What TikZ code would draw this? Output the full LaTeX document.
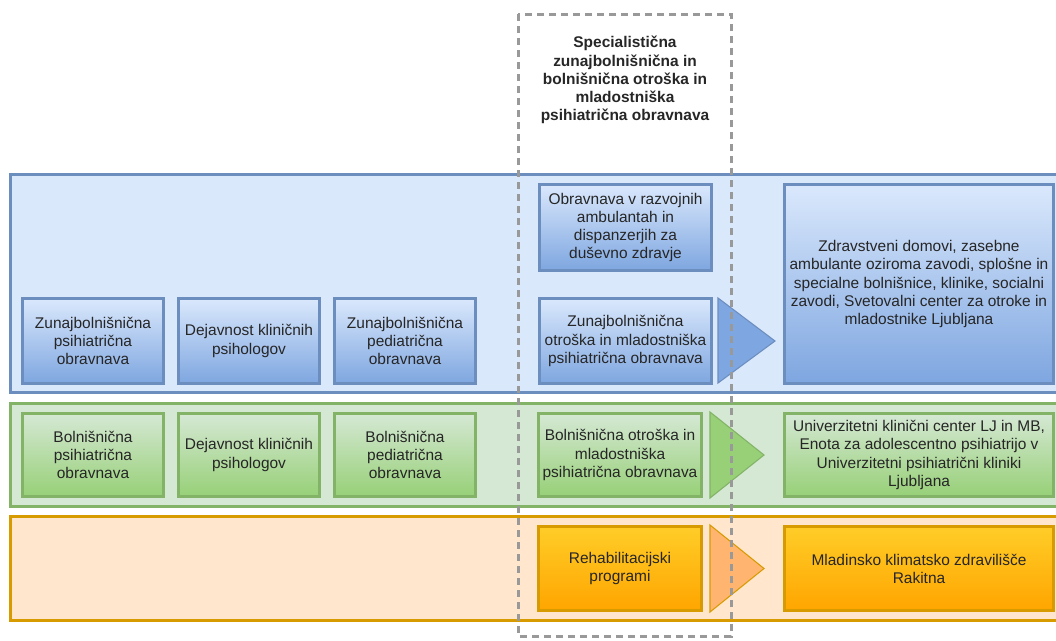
\documentclass[tikz,border=0pt]{standalone}
\usepackage{fontspec}
\setmainfont{Liberation Sans}
\usetikzlibrary{calc}
\definecolor{blueline}{HTML}{6C8EBF}
\definecolor{bluefill}{HTML}{DAE8FC}
\definecolor{bluetop}{HTML}{DAE8FC}
\definecolor{bluebot}{HTML}{7EA6E0}
\definecolor{greenline}{HTML}{82B366}
\definecolor{greenfill}{HTML}{D5E8D4}
\definecolor{greenbot}{HTML}{97D077}
\definecolor{orangeline}{HTML}{D79B00}
\definecolor{orangefill}{HTML}{FFE6CC}
\definecolor{orangetop}{HTML}{FFCD28}
\definecolor{orangebot}{HTML}{FFA500}
\definecolor{orangetri}{HTML}{FFB570}
\definecolor{dashgray}{HTML}{999999}
\tikzstyle{band}=[line width=2.25pt]
\tikzstyle{bx}=[shape=rectangle, line width=2.4pt, inner sep=0, align=center, text=black!85, font=\fontsize{11.6}{13.6}\selectfont]
\tikzstyle{bluebx}=[bx, draw=blueline, top color=bluetop, bottom color=bluebot]
\tikzstyle{greenbx}=[bx, draw=greenline, top color=greenfill, bottom color=greenbot]
\tikzstyle{orangebx}=[bx, draw=orangeline, top color=orangetop, bottom color=orangebot]
\tikzstyle{tri}=[line width=0.8pt, line join=miter]
\tikzstyle{dashbox}=[draw=dashgray, line width=2.25pt, dash pattern=on 5.5pt off 3.5pt]

\begin{document}
\begin{tikzpicture}[x=0.75pt, y=-0.75pt]
\path[use as bounding box, clip] (0,0) rectangle (1056,640);
% bands
\draw[band, draw=blueline, fill=bluefill] (10,174) rectangle (1062,392);
\draw[band, draw=greenline, fill=greenfill] (10,403) rectangle (1062,506);
\draw[band, draw=orangeline, fill=orangefill] (10,516) rectangle (1062,620);
% blue row
\node at (93,341)[bluebx, minimum width=105.75pt, minimum height=63.75pt](zpo){Zunajbolnišnična\\psihiatrična\\obravnava};
\node at (249,341)[bluebx, minimum width=105.75pt, minimum height=63.75pt](zkp){Dejavnost kliničnih\\psihologov};
\node at (405,341)[bluebx, minimum width=105.75pt, minimum height=63.75pt](zpe){Zunajbolnišnična\\pediatrična\\obravnava};
\node at (625.5,227.5)[bluebx, minimum width=129pt, minimum height=64.5pt](raz){Obravnava v razvojnih\\ambulantah in\\dispanzerjih za\\duševno zdravje};
\node at (625.5,341)[bluebx, minimum width=129pt, minimum height=63.75pt](zom){Zunajbolnišnična\\otroška in mladostniška\\psihiatrična obravnava};
\draw[tri, draw=blueline, fill=bluebot] (718,298)--(775,341)--(718,383)--cycle;
\node at (919,284)[bluebx, minimum width=201.75pt, minimum height=149.25pt](zd){Zdravstveni domovi, zasebne\\ambulante oziroma zavodi, splošne in\\specialne bolnišnice, klinike, socialni\\zavodi, Svetovalni center za otroke in\\mladostnike Ljubljana};
% green row
\node at (93,455)[greenbx, minimum width=105.75pt, minimum height=62.25pt](bpo){Bolnišnična\\psihiatrična\\obravnava};
\node at (249,455)[greenbx, minimum width=105.75pt, minimum height=62.25pt](bkp){Dejavnost kliničnih\\psihologov};
\node at (405,455)[greenbx, minimum width=105.75pt, minimum height=62.25pt](bpe){Bolnišnična\\pediatrična\\obravnava};
\node at (620,455)[greenbx, minimum width=122.25pt, minimum height=62.25pt](bom){Bolnišnična otroška in\\mladostniška\\psihiatrična obravnava};
\draw[tri, draw=greenline, fill=greenbot] (710,412)--(764,455)--(710,498)--cycle;
\node at (919,455)[greenbx, minimum width=201.75pt, minimum height=62.25pt](ukc){Univerzitetni klinični center LJ in MB,\\Enota za adolescentno psihiatrijo v\\Univerzitetni psihiatrični kliniki\\Ljubljana};
% orange row
\node at (620,568.5)[orangebx, minimum width=122.25pt, minimum height=63pt](reh){Rehabilitacijski\\programi};
\draw[tri, draw=orangeline, fill=orangetri] (710,525)--(764,568.5)--(710,612)--cycle;
\node at (919,568.5)[orangebx, minimum width=201.75pt, minimum height=63pt](mkz){Mladinsko klimatsko zdravilišče\\Rakitna};
% specialist frame
\draw[dashbox] (518,14) rectangle (731,636);
\node at (625,80)[align=center, text=black!85, font=\fontsize{11.6}{13.6}\selectfont\bfseries](spec){Specialistična\\zunajbolnišnična in\\bolnišnična otroška in\\mladostniška\\psihiatrična obravnava};
\end{tikzpicture}
\end{document}
